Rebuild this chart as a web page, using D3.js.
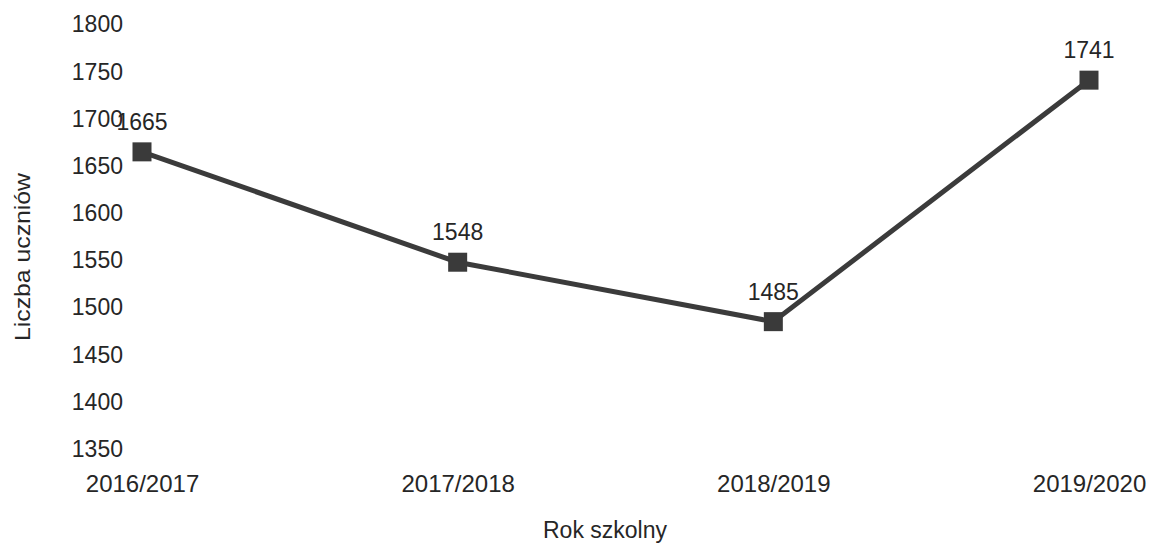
<!DOCTYPE html>
<html>
<head>
<meta charset="utf-8">
<script src="https://cdn.jsdelivr.net/npm/d3@7"></script>
<style>
  body { margin: 0; background: #fff; }
  text { font-family: "Liberation Sans", Arial, sans-serif; fill: #262626; }
</style>
</head>
<body>
<div id="chart"></div>
<script>
// data
var years = ["2016/2017", "2017/2018", "2018/2019", "2019/2020"];
var students = [1665, 1548, 1485, 1741];
var yTicks = [1350, 1400, 1450, 1500, 1550, 1600, 1650, 1700, 1750, 1800];

var width = 1150, height = 544;

var svg = d3.select("#chart").append("svg")
    .attr("width", width)
    .attr("height", height);

var x = d3.scalePoint()
    .domain(years)
    .range([142, 1089]);

var y = d3.scaleLinear()
    .domain([1350, 1800])
    .range([449, 24.5]);

var points = years.map((d, i) => ({ year: d, value: students[i] }));

// y axis (labels only, no line)
var yAxis = svg.append("g")
    .attr("transform", "translate(123,0)")
    .call(d3.axisLeft(y).tickValues(yTicks).tickSize(0).tickPadding(0).tickFormat(d3.format("d")));
yAxis.select(".domain").remove();
yAxis.selectAll("text")
    .attr("font-size", 23)
    .attr("font-family", "Liberation Sans, Arial, sans-serif")
    .attr("fill", "#262626");

// x axis
var xAxis = svg.append("g")
    .attr("transform", "translate(0,475)")
    .call(d3.axisBottom(x).tickSize(0).tickPadding(0));
xAxis.select(".domain").remove();
xAxis.selectAll("text")
    .attr("font-size", 24)
    .attr("font-family", "Liberation Sans, Arial, sans-serif")
    .attr("fill", "#262626");

// axis titles
svg.append("text")
    .attr("x", 605)
    .attr("y", 538)
    .attr("text-anchor", "middle")
    .attr("font-size", 23)
    .text("Rok szkolny");

svg.append("text")
    .attr("transform", "translate(30,257) rotate(-90)")
    .attr("text-anchor", "middle")
    .attr("font-size", 22)
    .attr("textLength", 168)
    .attr("lengthAdjust", "spacingAndGlyphs")
    .text("Liczba uczniów");

// line
var line = d3.line()
    .x(d => x(d.year))
    .y(d => y(d.value));

svg.append("path")
    .datum(points)
    .attr("d", line)
    .attr("fill", "none")
    .attr("stroke", "#3b3b3b")
    .attr("stroke-width", 5);

// square markers
var size = 19;
svg.selectAll("rect.marker")
    .data(points)
    .enter()
    .append("rect")
    .attr("class", "marker")
    .attr("x", d => x(d.year) - size / 2)
    .attr("y", d => y(d.value) - size / 2)
    .attr("width", size)
    .attr("height", size)
    .attr("fill", "#3a3a3a");

// value labels
svg.selectAll("text.value")
    .data(points)
    .enter()
    .append("text")
    .attr("class", "value")
    .attr("x", d => x(d.year))
    .attr("y", d => y(d.value) - 22)
    .attr("text-anchor", "middle")
    .attr("font-size", 23)
    .text(d => d.value);
</script>
</body>
</html>
